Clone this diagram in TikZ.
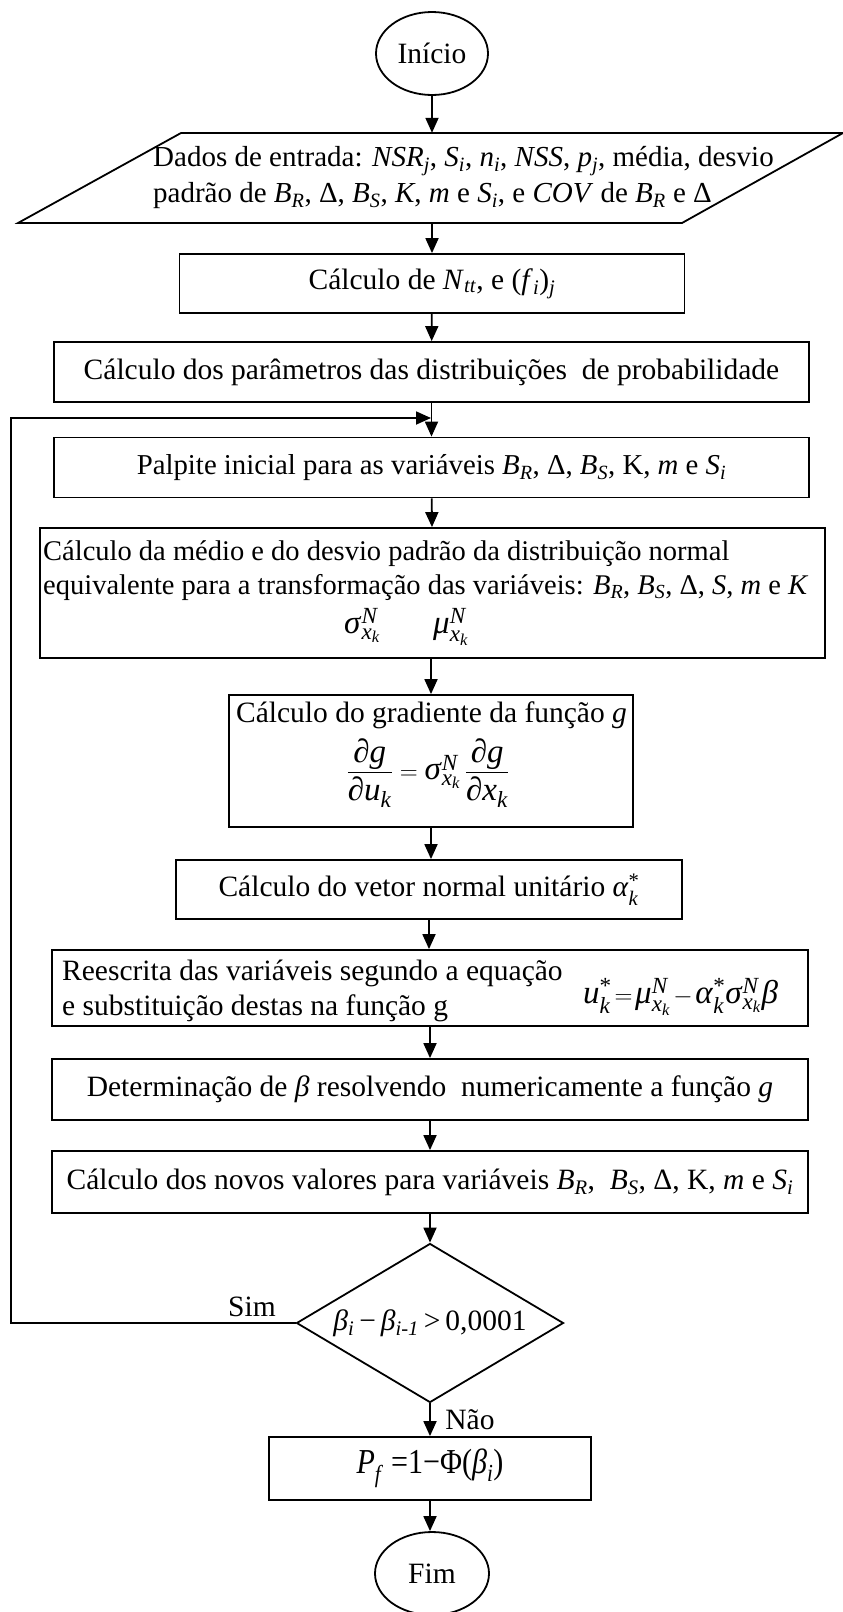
\documentclass[tikz,border=0pt]{standalone}
\usepackage{fontspec}
\usepackage{amsmath}
\setmainfont{Liberation Serif}
\usetikzlibrary{arrows.meta,shapes.geometric}
\newcommand{\vi}[1]{\textit{#1}}
\newcommand{\vs}[2]{\textit{#1}\textsubscript{\textit{#2}}}
\newcommand{\ti}[1]{\text{\textit{#1}}}
\newcommand{\fsz}[1]{\fontsize{#1}{36}\selectfont}
\begin{document}
\begin{tikzpicture}[x=1pt,y=-1pt,
  every node/.style={font=\fsz{29.5}, inner sep=0pt},
  box/.style={draw, line width=1.8pt, rectangle, align=center},
  arr/.style={line width=1.8pt, -{Triangle[length=15pt,width=13pt]}},
  ln/.style={line width=1.8pt},
  term/.style={draw, ellipse, line width=1.8pt, minimum width=112pt, minimum height=83pt},
  big/.style={font=\fsz{33}}]
\useasboundingbox (0,0) rectangle (843,1612);

\node[term] (inicio) at (432,53.5) {Início};

\draw[ln] (181,133) -- (843,133) -- (682,223) -- (18,223) -- cycle;
\node[align=left, anchor=west, minimum height=90pt, font=\fsz{29}] (dados) at (153,178)
 {Dados de entrada: \vs{NSR}{j}, \vs{S}{i}, \vs{n}{i}, \vi{NSS}, \vs{p}{j}, média, desvio\\
  padrão de \vs{B}{R}, Δ, \vs{B}{S}, \vi{K}, \vi{m} e \vs{S}{i}, e \vi{COV} de \vs{B}{R} e Δ};

\node[box, minimum width=505pt, minimum height=59pt] (calc1) at (432,283.5)
 {Cálculo de \vs{N}{tt}, e (\vs{f}{i})\textsubscript{\vi{j}}};
\node[box, minimum width=755pt, minimum height=60pt] (param) at (431.5,372)
 {Cálculo dos parâmetros das distribuições\ \ de probabilidade};
\node[box, minimum width=755pt, minimum height=60pt, font=\fsz{28.8}] (palpite) at (431.5,467.5)
 {Palpite inicial para as variáveis \vs{B}{R}, Δ, \vs{B}{S}, K, \vi{m} e \vs{S}{i}};

\node[box, minimum width=785pt, minimum height=130pt] (media) at (432.5,593) {};
\node[anchor=base west, font=\fsz{28.5}] (m1) at (43,560) {Cálculo da médio e do desvio padrão da distribuição normal};
\node[anchor=base west, font=\fsz{28.5}] (m2) at (43,594) {equivalente para a transformação das variáveis: \vs{B}{R}, \vs{B}{S}, Δ, \vi{S}, \vi{m} e \vi{K}};
\node[anchor=base west, big] (m3) at (344,633) {$\ti{σ}^{\ti{N}}_{\ti{x}_{\ti{k}}}$};
\node[anchor=base west, big] (m4) at (433,633) {$\ti{μ}^{\ti{N}}_{\ti{x}_{\ti{k}}}$};

\node[box, minimum width=404pt, minimum height=132pt] (grad) at (431,761) {};
\node[anchor=base] (g1) at (431.5,722) {Cálculo do gradiente da função \vi{g}};
\node[big] (g2) at (428,773) {$\dfrac{\ti{∂g}}{\ti{∂u}_{\ti{k}}}=\ti{σ}^{\ti{N}}_{\ti{x}_{\ti{k}}}\,\dfrac{\ti{∂g}}{\ti{∂x}_{\ti{k}}}$};

\node[box, minimum width=506pt, minimum height=59pt] (vetor) at (429,889.5)
 {Cálculo do vetor normal unitário $\ti{α}_{\ti{k}}^{\text{*}}$};

\node[box, minimum width=756pt, minimum height=76pt] (reesc) at (430,988) {};
\node[anchor=base west] (r1) at (62,980) {Reescrita das variáveis segundo a equação};
\node[anchor=base west] (r2) at (62,1015) {e substituição destas na função g};
\node[anchor=base west, big] (r3) at (583,1003)
 {$\ti{u}^{\text{*}}_{\ti{k}}\mkern2mu{=}\mkern2mu\ti{μ}^{\ti{N}}_{\ti{x}_{\ti{k}}}\mkern2mu{-}\mkern2mu\ti{α}^{\text{*}}_{\ti{k}}\ti{σ}^{\ti{N}}_{\ti{x}_{\ti{k}}}\ti{β}$};

\node[box, minimum width=756pt, minimum height=61pt] (determ) at (430,1089.5)
 {Determinação de\ \vi{β} resolvendo\ \ numericamente a função \vi{g}};
\node[box, minimum width=756pt, minimum height=62pt] (novos) at (430,1182)
 {Cálculo dos novos valores para variáveis \vs{B}{R},\ \ \vs{B}{S}, Δ, K, \vi{m} e \vs{S}{i}};

\node[draw, diamond, aspect=1.68, line width=1.8pt, minimum width=267pt, minimum height=159pt] (dec) at (430,1323)
 {\vs{β}{i}\,−\,\vs{β}{i-1}\,>\,0,0001};
\node (sim) at (252,1307) {Sim};
\node (nao) at (470,1420) {Não};

\node[box, minimum width=322pt, minimum height=63pt, font=\fsz{35}] (pf) at (430,1468.5)
 {\scalebox{0.86}[1]{\vs{P}{f} =1−Φ(\vs{β}{i})}};
\node[term, minimum width=114pt] (fim) at (432,1573.5) {Fim};

\coordinate (loopin) at (431,418);
\draw[arr] (inicio) -- (inicio |- dados.north);
\draw[arr] (calc1 |- dados.south) -- (calc1);
\draw[arr] (calc1) -- (param);
\draw[arr] (param) -- (palpite);
\draw[arr] (palpite) -- (media);
\draw[arr] (media.south -| grad) -- (grad);
\draw[arr] (grad) -- (grad |- vetor.north);
\draw[arr] (vetor) -- (vetor |- reesc.north);
\draw[arr] (reesc) -- (determ);
\draw[arr] (determ) -- (novos);
\draw[arr] (novos) -- (dec);
\draw[arr] (dec) -- (pf);
\draw[arr] (pf) -- (pf |- fim.north);
\draw[arr] (dec.west) -- ++(-285,0) |- (loopin);
\end{tikzpicture}
\end{document}
